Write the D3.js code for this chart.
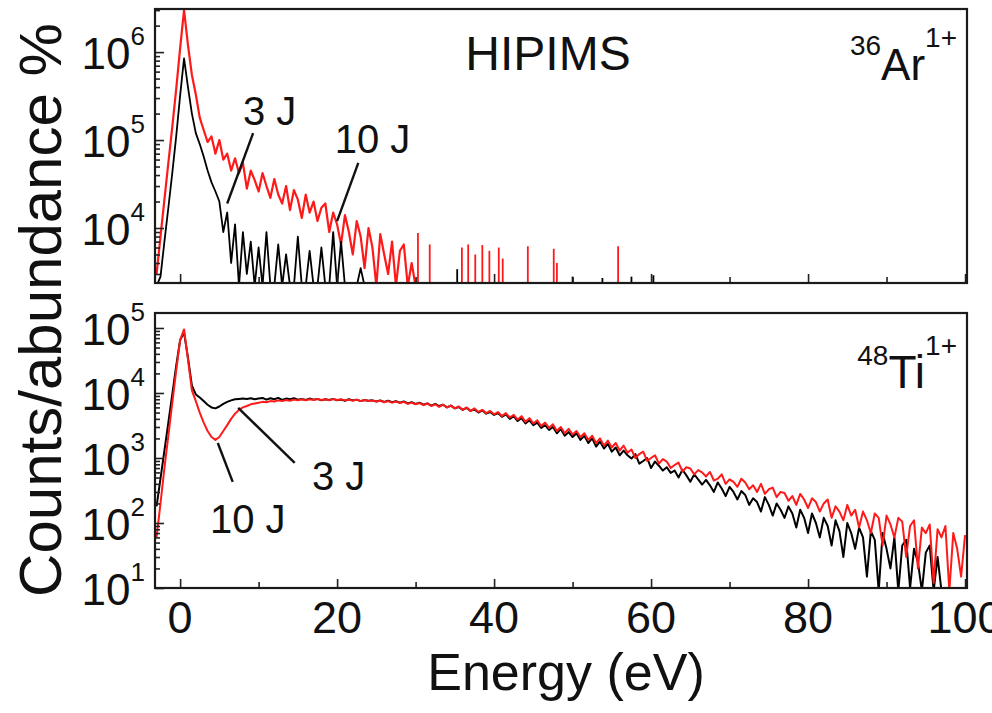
<!doctype html>
<html>
<head>
<meta charset="utf-8">
<title>HIPIMS ion energy distributions</title>
<script src="https://d3js.org/d3.v7.min.js"></script>
<style>
  body { margin: 0; background: #fff; }
  text { font-family: "Liberation Sans", Arial, Helvetica, sans-serif; fill: #111; }
</style>
</head>
<body>
<script>

const w = 992;
const h = 713;

// energy channels: both spectra start at -3 eV, 0.5 eV wide
const eStart = -3;
const eStep = 0.5;

// 36Ar1+ counts, -3 .. 30 eV (0 = empty channel)
const ar10J = [
  3000, 8000, 21000, 55000, 140000, 380000, 1100000, 3000000, 1200000, 550000,
  330000, 180000, 130000, 95000, 110000, 70000, 100000, 60000, 70000, 45000,
  62000, 42000, 55000, 28000, 45000, 35000, 26000, 42000, 30000, 22000,
  36000, 24000, 19000, 30000, 16000, 27000, 21000, 13000, 24000, 15000,
  20000, 12000, 17000, 19000, 9000, 15000, 11000, 6500, 14000, 9000,
  5000, 12000, 8000, 3500, 10000, 6000, 0, 8500, 5000, 3000,
  7000, 0, 5500, 6500, 0, 4000, 0
];
const ar3J = [
  0, 2800, 7000, 17000, 42000, 110000, 320000, 850000, 400000, 200000,
  120000, 90000, 65000, 45000, 33000, 26000, 20000, 9000, 15000, 4000,
  11000, 0, 9000, 3000, 7000, 0, 6000, 0, 9000, 0,
  0, 6500, 0, 5000, 0, 0, 8000, 0, 0, 5500,
  0, 0, 6000, 0, 0, 9000, 0, 7000, 0, 0,
  0, 0, 3500, 0, 0, 0, 0, 0, 0, 0,
  0, 0, 0, 0, 0, 0, 0
];
// single hits above 30 eV: [energy, counts]
const ar10JHits = [
  [30.3, 8800], [31.8, 6500], [35.9, 6000], [36.7, 6500], [37.6, 5000],
  [38.5, 6400], [39.4, 5500], [40.6, 6000], [41.1, 4500], [44.3, 6200],
  [47.6, 5800], [48.0, 4000], [55.8, 6200]
];
const ar3JHits = [[35.3, 3400], [50.0, 2800], [53.8, 2700], [57.5, 2800], [60.3, 2900]];

// 48Ti1+ counts, 3 J: -3 .. 97.5 eV
const ti3J = [
  180, 480, 1300, 3500, 9500, 26000, 65000, 85000, 35000, 13000,
  9500, 8500, 7500, 6600, 6000, 5800, 6200, 6800, 7300, 7700,
  8000, 8100, 8200, 8100, 8300, 8000, 8200, 8400, 7900, 8300,
  8000, 8400, 7800, 8200, 8000, 8300, 7900, 8100, 7800, 8200,
  7900, 8100, 7700, 8000, 7800, 8100, 7700, 7900, 7600, 8000,
  7700, 7900, 7500, 7800, 7600, 7700, 7400, 7700, 7300, 7600,
  7200, 7500, 7100, 7400, 6900, 7200, 6800, 7100, 6600, 6900,
  6400, 6800, 6300, 6600, 6000, 6400, 5800, 6100, 5500, 5900,
  5300, 5600, 5000, 5400, 4800, 5100, 4600, 4900, 4300, 4700,
  4000, 4400, 3700, 4100, 3400, 3800, 3200, 3500, 2900, 3200,
  2700, 3000, 2400, 2800, 2200, 2500, 2100, 2400, 1900, 2200,
  1700, 2000, 1500, 1800, 1400, 1650, 1250, 1450, 1100, 1300,
  1100, 980, 1150, 820, 900, 1000, 700, 880, 760, 640,
  720, 590, 640, 500, 660, 540, 430, 560, 470, 390,
  460, 380, 300, 420, 340, 260, 360, 300, 230, 310,
  270, 190, 240, 210, 150, 250, 190, 130, 200, 160,
  120, 180, 140, 85, 160, 120, 70, 140, 100, 60,
  120, 90, 45, 110, 75, 30, 100, 70, 40, 85,
  60, 15, 75, 55, 0, 70, 40, 20, 60, 0,
  45, 55, 10, 40, 25, 0, 35, 45, 0, 30,
  0, 0
];
// 48Ti1+ counts, 10 J: -3 .. 100 eV
const ti10J = [
  60, 200, 700, 2200, 7000, 22000, 65000, 95000, 33000, 11000,
  7500, 5000, 3500, 2600, 2100, 1900, 2100, 2600, 3200, 4000,
  4800, 5500, 6000, 6300, 6700, 6900, 7100, 7300, 7200, 7500,
  7400, 7700, 7500, 7800, 7600, 7900, 7700, 8000, 7700, 8000,
  7800, 8100, 7800, 8000, 7700, 8100, 7800, 8000, 7700, 7900,
  7600, 7900, 7500, 7800, 7500, 7700, 7400, 7600, 7200, 7500,
  7100, 7400, 7000, 7300, 6800, 7100, 6700, 7000, 6500, 6900,
  6300, 6700, 6100, 6600, 6000, 6400, 5800, 6200, 5500, 6000,
  5300, 5800, 5100, 5500, 4900, 5300, 4700, 5100, 4400, 4900,
  4200, 4600, 3900, 4400, 3600, 4100, 3400, 3800, 3100, 3500,
  2900, 3300, 2600, 3000, 2400, 2800, 2300, 2600, 2100, 2400,
  1900, 2200, 1700, 2000, 1550, 1850, 1450, 1700, 1300, 1550,
  1200, 1350, 1000, 1150, 1250, 900, 1000, 1100, 820, 960,
  880, 700, 780, 850, 620, 720, 690, 560, 650, 600,
  520, 610, 450, 480, 560, 400, 470, 430, 360, 480,
  420, 330, 380, 300, 400, 280, 330, 350, 250, 300,
  290, 220, 260, 190, 280, 230, 170, 240, 210, 150,
  200, 230, 120, 180, 150, 110, 190, 130, 160, 85,
  150, 110, 70, 140, 120, 45, 130, 95, 60, 120,
  105, 30, 90, 110, 20, 85, 70, 95, 12, 80,
  60, 90, 0, 70, 40, 15, 65
];

const xTicks = [0, 20, 40, 60, 80, 100];
const xMinorTicks = [10, 30, 50, 70, 90];
const arDecades = [4, 5, 6];
const tiDecades = [1, 2, 3, 4, 5];

const red = "#ff1a1a";
const black = "#000";

const x = d3.scaleLinear()
            .domain([-3.2, 100.25])
            .range([155, 967]);

const yAr = d3.scaleLog()
              .domain([2370, 3.09e6])
              .range([283, 9]);

const yTi = d3.scaleLog()
              .domain([10, 1.7e5])
              .range([588, 313]);

const svg = d3.select("body").append("svg")
              .attr("width", w)
              .attr("height", h);

function panel(id, y, decades) {
  const g = svg.append("g");
  const [bottom, top] = y.range();

  svg.append("clipPath").attr("id", "clip-" + id)
     .append("rect")
     .attr("x", x.range()[0]).attr("y", top)
     .attr("width", x.range()[1] - x.range()[0])
     .attr("height", bottom - top);

  const plot = g.append("g").attr("clip-path", "url(#clip-" + id + ")");

  // x ticks, inward
  g.append("g")
   .attr("transform", "translate(0," + bottom + ")")
   .call(d3.axisBottom(x).tickValues(xTicks).tickSize(-9).tickFormat(""))
   .call(a => a.select(".domain").remove());
  g.append("g")
   .attr("transform", "translate(0," + bottom + ")")
   .call(d3.axisBottom(x).tickValues(xMinorTicks).tickSize(-6).tickFormat(""))
   .call(a => a.select(".domain").remove());

  // log y ticks, inward
  const minor = y.ticks().filter(v => Math.abs(Math.log10(v) % 1) > 1e-6);
  g.append("g")
   .attr("transform", "translate(" + x.range()[0] + ",0)")
   .call(d3.axisLeft(y).tickValues(decades.map(d => Math.pow(10, d))).tickSize(-9).tickFormat(""))
   .call(a => a.select(".domain").remove());
  g.append("g")
   .attr("transform", "translate(" + x.range()[0] + ",0)")
   .call(d3.axisLeft(y).tickValues(minor).tickSize(-5).tickFormat(""))
   .call(a => a.select(".domain").remove());
  g.selectAll(".tick line").attr("stroke", "#222").attr("stroke-width", 1.6);

  // decade labels 10^n
  g.selectAll(".ylab")
   .data(decades)
   .enter()
   .append("text")
   .attr("class", "ylab")
   .attr("x", 145)
   .attr("y", d => y(Math.pow(10, d)) + 17)
   .attr("text-anchor", "end")
   .style("font-size", "44px")
   .text("10")
   .append("tspan")
   .attr("dy", -24)
   .style("font-size", "26px")
   .text(d => d);

  g.append("rect")
   .attr("x", x.range()[0]).attr("y", top)
   .attr("width", x.range()[1] - x.range()[0])
   .attr("height", bottom - top)
   .attr("fill", "none")
   .attr("stroke", "#1a1a1a")
   .attr("stroke-width", 2.2);

  return { g: g, plot: plot, y: y, bottom: bottom };
}

function spectrum(p, values, color, width) {
  const line = d3.line()
                 .x((d, i) => x(eStart + i * eStep))
                 .y(d => d > 0 ? p.y(d) : p.bottom + 3);
  p.plot.append("path")
   .datum(values)
   .attr("d", line)
   .attr("fill", "none")
   .attr("stroke", color)
   .attr("stroke-width", width)
   .attr("stroke-linejoin", "round");
}

function hits(p, list, color) {
  p.plot.selectAll(null)
   .data(list)
   .enter()
   .append("line")
   .attr("x1", d => x(d[0])).attr("x2", d => x(d[0]))
   .attr("y1", p.bottom).attr("y2", d => p.y(d[1]))
   .attr("stroke", color)
   .attr("stroke-width", 1.8);
}

function note(p, label, tx, ty, from, to) {
  p.g.append("line")
   .attr("x1", x(from[0])).attr("y1", p.y(from[1]))
   .attr("x2", x(to[0])).attr("y2", p.y(to[1]))
   .attr("stroke", "#111")
   .attr("stroke-width", 2.4);
  p.g.append("text")
   .attr("x", x(tx)).attr("y", p.y(ty))
   .style("font-size", "40px")
   .text(label);
}

// ---- top: argon
const ar = panel("ar", yAr, arDecades);
spectrum(ar, ar10J, red, 2.2);
hits(ar, ar10JHits, red);
spectrum(ar, ar3J, black, 1.8);
hits(ar, ar3JHits, black);
note(ar, "3 J", 8.0, 1.48e5, [9.3, 1.2e5], [6.0, 1.9e4]);
note(ar, "10 J", 19.7, 7.1e4, [22.7, 5.5e4], [20.0, 1.2e4]);

ar.g.append("text")
  .attr("x", 548).attr("y", 70)
  .attr("text-anchor", "middle")
  .style("font-size", "48px")
  .text("HIPIMS");

const arLab = ar.g.append("text")
  .attr("x", 957).attr("y", 80)
  .attr("text-anchor", "end");
arLab.append("tspan").attr("dy", -25).style("font-size", "28px").text("36");
arLab.append("tspan").attr("dy", 25).style("font-size", "44px").text("Ar");
arLab.append("tspan").attr("dy", -33).style("font-size", "28px").text("1+");

// ---- bottom: titanium
const ti = panel("ti", yTi, tiDecades);
spectrum(ti, ti3J, black, 2);
spectrum(ti, ti10J, red, 2);
note(ti, "3 J", 16.8, 322, [7.4, 5900], [14.6, 840]);
note(ti, "10 J", 3.8, 70, [4.8, 1700], [6.7, 430]);

const tiLab = ti.g.append("text")
  .attr("x", 957).attr("y", 388)
  .attr("text-anchor", "end");
tiLab.append("tspan").attr("dy", -23).style("font-size", "28px").text("48");
tiLab.append("tspan").attr("dy", 23).style("font-size", "46px").text("Ti");
tiLab.append("tspan").attr("dy", -33).style("font-size", "28px").text("1+");

// x labels under the bottom panel only
svg.selectAll(".xlab")
   .data(xTicks)
   .enter()
   .append("text")
   .attr("class", "xlab")
   .attr("x", d => x(d))
   .attr("y", 633)
   .attr("text-anchor", "middle")
   .style("font-size", "45px")
   .text(d => d);

svg.append("text")
   .attr("x", 566).attr("y", 690)
   .attr("text-anchor", "middle")
   .style("font-size", "52px")
   .text("Energy (eV)");

svg.append("text")
   .attr("transform", "translate(61,310) rotate(-90)")
   .attr("text-anchor", "middle")
   .style("font-size", "60px")
   .text("Counts/abundance %");

</script>
</body>
</html>
